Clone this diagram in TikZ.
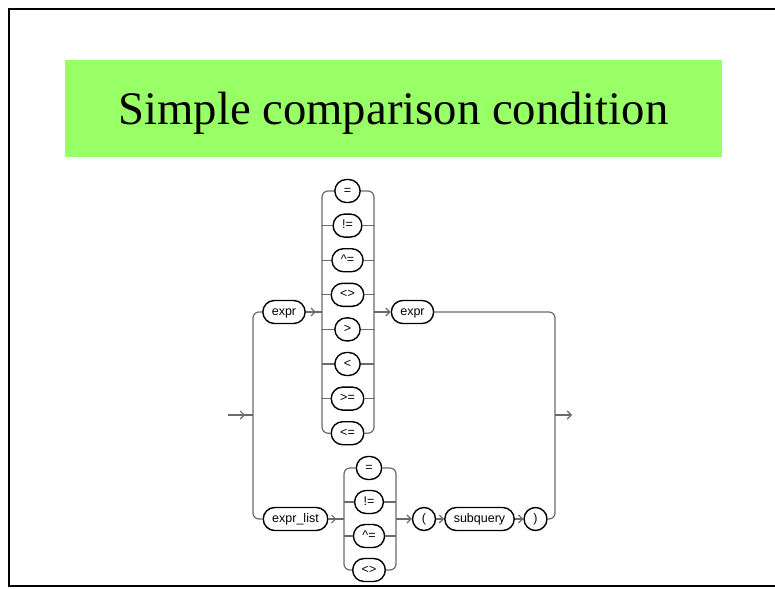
\documentclass[tikz,border=0pt]{standalone}
\usepackage{fontspec}
\setmainfont{Liberation Serif}
\newfontfamily\railfont{Liberation Sans}
\usetikzlibrary{arrows.meta}
\definecolor{titlegreen}{HTML}{99FF66}
\definecolor{railgray}{HTML}{6A6A6A}
\tikzset{
  term/.style={draw=black, line width=1.4pt, rounded corners=11.5pt, minimum height=23pt,
    minimum width=23pt, inner xsep=9pt, inner ysep=2pt, text height=8.6pt, text depth=2.4pt,
    fill=white, font=\railfont\fontsize{12.5}{12.5}\selectfont},
  rail/.style={draw=railgray, line width=1.2pt},
  arr/.style={rail, -{Straight Barb[length=4pt,width=8pt]}}
}
\begin{document}
\begin{tikzpicture}[x=1pt,y=-1pt]
  \useasboundingbox (0,0) rectangle (775,588);
  %cornice
  \draw[line width=2pt] (775,9.5) -- (9,9.5) -- (9,585.5) -- (775,585.5);
  %titolo
  \fill[titlegreen] (65,60) rectangle (722,157);
  \node[anchor=base, inner sep=0pt, font=\fontsize{46.7}{50}\selectfont] (title) at (393.5,125) {Simple comparison condition};
  %punti di appoggio
  \coordinate (enter) at (228,415);
  \coordinate (leave) at (572,415);
  \coordinate (mainL) at (253,415);
  \coordinate (mainR) at (555,415);
  \coordinate (topL) at (322,0);
  \coordinate (topR) at (374,0);
  \coordinate (botL) at (344,0);
  \coordinate (botR) at (396,0);
  %termini
  \node[term] (expr) at (284,312) {expr};
  \node[term] (exprb) at (412.5,312) {expr};
  \node[term] (exprlist) at (295.5,519) {expr\_list};
  \node[term] (lpar) at (424,519) {(};
  \node[term] (subq) at (479.5,519) {subquery};
  \node[term] (rpar) at (535.5,519) {)};
  %operatori
  \foreach \op [count=\i] in {=, !=, \textasciicircum=, <>, >, <, >=, <=}
    \node[term] (top\i) at (347.5,{191+34.6*(\i-1)}) {\op};
  \foreach \op [count=\i] in {=, !=, \textasciicircum=, <>}
    \node[term] (bot\i) at (369,{468+34*(\i-1)}) {\op};
  %binari operatori
  \draw[rail, rounded corners=6pt] (top1.west) -- (top1.west -| topL) -- (top8.west -| topL) -- (top8.west);
  \draw[rail, rounded corners=6pt] (top1.east) -- (top1.east -| topR) -- (top8.east -| topR) -- (top8.east);
  \foreach \i in {2,...,7} {
    \draw[rail] (top\i.west -| topL) -- (top\i.west);
    \draw[rail] (top\i.east) -- (top\i.east -| topR);
  }
  \draw[rail, rounded corners=6pt] (bot1.west) -- (bot1.west -| botL) -- (bot4.west -| botL) -- (bot4.west);
  \draw[rail, rounded corners=6pt] (bot1.east) -- (bot1.east -| botR) -- (bot4.east -| botR) -- (bot4.east);
  \foreach \i in {2,3} {
    \draw[rail] (bot\i.west -| botL) -- (bot\i.west);
    \draw[rail] (bot\i.east) -- (bot\i.east -| botR);
  }
  %ramo principale
  \draw[rail] (enter) -- (mainL);
  \draw[arr] (enter) -- ++(17,0);
  \draw[rail, rounded corners=6pt] (expr.west) -- (expr.west -| mainL) -- (exprlist.west -| mainL) -- (exprlist.west);
  \draw[rail] (expr.east) -- (expr.east -| topL);
  \draw[arr] (expr.east) -- ++(10,0);
  \draw[arr] (expr.east -| topR) -- (exprb.west);
  \draw[rail, rounded corners=6pt] (exprb.east) -- (exprb.east -| mainR) -- (rpar.east -| mainR) -- (rpar.east);
  \draw[arr] (mainR) -- (leave);
  %ramo della lista
  \draw[rail] (exprlist.east) -- (exprlist.east -| botL);
  \draw[arr] (exprlist.east) -- ++(8,0);
  \draw[arr] (exprlist.east -| botR) -- (lpar.west);
  \draw[arr] (lpar) -- (subq);
  \draw[arr] (subq) -- (rpar);
\end{tikzpicture}
\end{document}
